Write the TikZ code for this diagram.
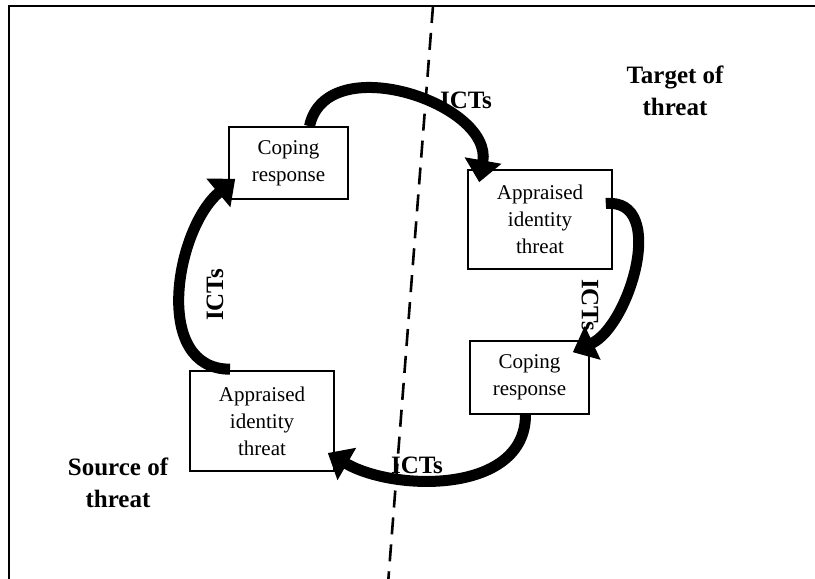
\documentclass[tikz,border=0pt]{standalone}
\usepackage{fontspec}
\setmainfont{Liberation Serif}
\usetikzlibrary{arrows.meta}
\tikzset{
    caja/.style={draw,line width=1.6pt,align=center,font=\fontsize{21}{27}\selectfont},
    lado/.style={align=center,font=\bfseries\fontsize{25}{32}\selectfont},
    ict/.style={font=\bfseries\fontsize{25}{30}\selectfont,inner sep=1pt},
    flecha/.style={line width=11pt,-{Triangle[length=22pt,width=36pt]}}
}
\begin{document}
\begin{tikzpicture}[x=1pt,y=1pt]
    \useasboundingbox (0,0) rectangle (815,579);
    % Marco
    \draw[line width=2.4pt] (9,-5) -- (9,573) -- (820,573);

    % Linea divisoria
    \coordinate (arriba) at (433,573);
    \coordinate (abajo) at (388,-5);
    \draw[line width=2.6pt,dash pattern=on 17pt off 10pt] (arriba) -- (abajo);

    % Cajas
    \node[caja,minimum width=119,minimum height=72] (cr1) at (288.5,416) {Coping\\response};
    \node[caja,minimum width=144,minimum height=99] (ait1) at (540,359.5) {Appraised\\identity\\threat};
    \node[caja,minimum width=119,minimum height=73] (cr2) at (529.5,201.5) {Coping\\response};
    \node[caja,minimum width=144,minimum height=100] (ait2) at (262,158) {Appraised\\identity\\threat};

    % Lados
    \node[lado] (target) at (675,488) {Target of\\threat};
    \node[lado] (source) at (118,96) {Source of\\threat};

    % Flechas
    \draw[flecha] ([xshift=21]cr1.north) to[out=78,in=80,looseness=1.15] ([xshift=12,yshift=-13]ait1.north west);
    \draw[flecha] ([xshift=-7,yshift=16]ait1.east) to[out=5,in=25,looseness=1.05] ([xshift=-17,yshift=-12]cr2.north east);
    \draw[flecha] ([xshift=-4]cr2.south) to[out=-90,in=-30,looseness=1] ([xshift=-7,yshift=-32]ait2.east);
    \draw[flecha] ([xshift=-32,yshift=1]ait2.north) to[out=180,in=-140,looseness=1.05] ([xshift=7,yshift=21]cr1.south west);

    % Etiquetas ICTs
    \foreach \n/\pos/\ang in {a/{(466,479)}/0, b/{(590,274)}/-90, c/{(417,114)}/0, d/{(215,284)}/90} {
        \node[ict,rotate=\ang] (ict\n) at \pos {ICTs};
    }
\end{tikzpicture}
\end{document}
